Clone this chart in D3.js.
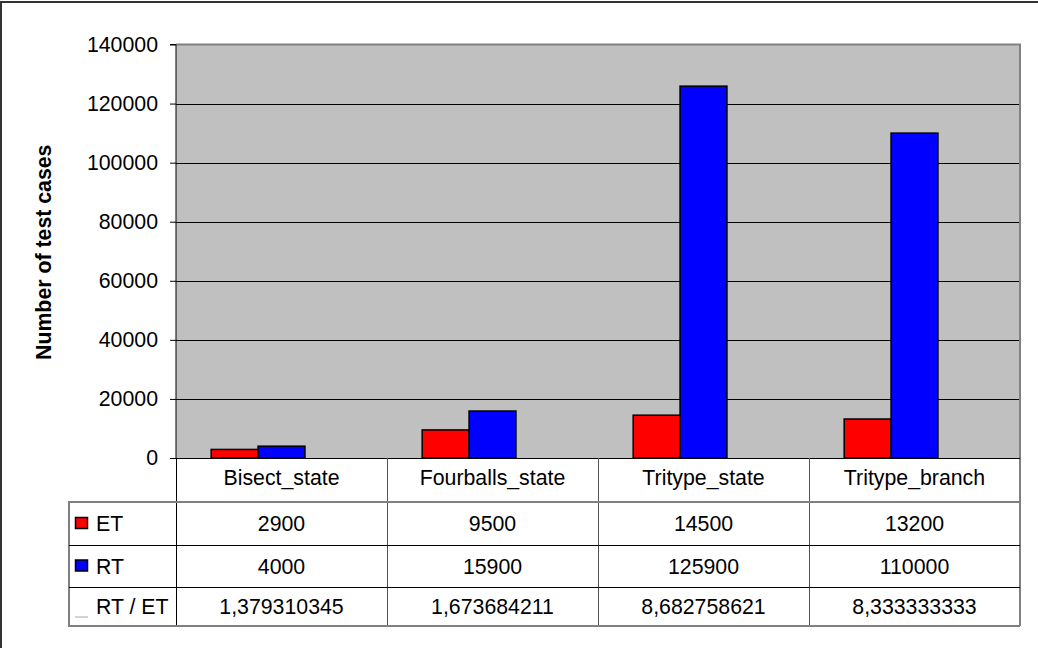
<!DOCTYPE html>
<html>
<head>
<meta charset="utf-8">
<script src="https://cdn.jsdelivr.net/npm/d3@7"></script>
<style>
  body { margin: 0; background: #fff; }
  text { font-family: "Liberation Sans", Arial, sans-serif; }
</style>
</head>
<body>
<div id="chart"></div>
<script>
// data
const categories = ["Bisect_state", "Fourballs_state", "Tritype_state", "Tritype_branch"];
const seriesNames = ["ET", "RT", "RT / ET"];
const etValues = [2900, 9500, 14500, 13200];
const rtValues = [4000, 15900, 125900, 110000];
const ratioLabels = ["1,379310345", "1,673684211", "8,682758621", "8,333333333"];
const yTicks = [0, 20000, 40000, 60000, 80000, 100000, 120000, 140000];

const W = 1038, H = 648;
const FS = 21.3;
const plot = { left: 176, right: 1020, top: 44.5, bottom: 458 };
const rows = { top: 502, lines: [545, 587], bottom: 626, tableLeft: 69 };

const svg = d3.select("#chart").append("svg")
    .attr("width", W)
    .attr("height", H);

// outer frame (only top & left are visible in the picture)
svg.append("rect")
    .attr("x", 1).attr("y", 2)
    .attr("width", W + 10).attr("height", H + 10)
    .attr("fill", "none")
    .attr("stroke", "#333")
    .attr("stroke-width", 2);

const x = d3.scaleBand()
    .domain(categories)
    .range([plot.left, plot.right]);

// third series (RT / ET) is too small to see but still takes its slot
const xInner = d3.scaleBand()
    .domain(seriesNames)
    .range([0, x.bandwidth()])
    .paddingInner(0)
    .paddingOuter(0.75);

const y = d3.scaleLinear()
    .domain([0, 140000])
    .range([plot.bottom, plot.top]);

// plot background
svg.append("rect")
    .attr("x", plot.left).attr("y", plot.top)
    .attr("width", plot.right - plot.left)
    .attr("height", plot.bottom - plot.top)
    .attr("fill", "#c0c0c0");

// gridlines
svg.append("g")
    .selectAll("line")
    .data(yTicks.filter(d => d > 0 && d < 140000))
    .join("line")
    .attr("x1", plot.left).attr("x2", plot.right)
    .attr("y1", d => Math.round(y(d)) + 0.5)
    .attr("y2", d => Math.round(y(d)) + 0.5)
    .attr("stroke", "#000")
    .attr("stroke-width", 1);

// plot border top + right (gray)
svg.append("path")
    .attr("d", `M${plot.left},${plot.top}H${plot.right}V${rows.bottom}`)
    .attr("fill", "none")
    .attr("stroke", "#808080")
    .attr("stroke-width", 2);

// bars
const barData = [];
categories.forEach((c, i) => {
    barData.push({ cat: c, series: "ET", value: etValues[i], color: "#ff0000" });
    barData.push({ cat: c, series: "RT", value: rtValues[i], color: "#0000ff" });
});

svg.append("g")
    .selectAll("rect")
    .data(barData)
    .join("rect")
    .attr("x", d => x(d.cat) + xInner(d.series))
    .attr("y", d => y(d.value))
    .attr("width", xInner.bandwidth())
    .attr("height", d => y(0) - y(d.value))
    .attr("fill", d => d.color)
    .attr("stroke", "#000")
    .attr("stroke-width", 1.5);

// y axis
const yAxis = svg.append("g")
    .attr("transform", `translate(${plot.left},0)`)
    .call(d3.axisLeft(y).tickValues(yTicks).tickSize(6).tickPadding(12).tickFormat(d3.format("d")));
yAxis.select(".domain").attr("stroke", "#000").attr("d", `M-6,${plot.top}H0V${plot.bottom}`);
yAxis.selectAll(".tick line").attr("stroke", "#000");
yAxis.selectAll(".tick text")
    .attr("font-family", "Liberation Sans, Arial, sans-serif")
    .attr("font-size", FS)
    .attr("fill", "#000");

// axis title
svg.append("text")
    .attr("transform", `translate(51,${(plot.top + plot.bottom) / 2 + 1}) rotate(-90)`)
    .attr("text-anchor", "middle")
    .attr("font-size", FS)
    .attr("font-weight", "bold")
    .text("Number of test cases");

// ---- data table ----
const tbl = svg.append("g");

tbl.append("line")
    .attr("x1", plot.left).attr("x2", plot.right)
    .attr("y1", plot.bottom + 0.5).attr("y2", plot.bottom + 0.5)
    .attr("stroke", "#000");

// vertical separators between categories
tbl.selectAll(".sep")
    .data(categories.slice(1))
    .join("line")
    .attr("x1", d => Math.round(x(d)) + 0.5)
    .attr("x2", d => Math.round(x(d)) + 0.5)
    .attr("y1", plot.bottom).attr("y2", rows.bottom)
    .attr("stroke", "#555");

// left line of the value area (continues the axis)
tbl.append("line")
    .attr("x1", plot.left + 0.5).attr("x2", plot.left + 0.5)
    .attr("y1", plot.bottom).attr("y2", rows.bottom)
    .attr("stroke", "#000");

// outer table frame (gray)
tbl.append("path")
    .attr("d", `M${plot.right},${rows.top}H${rows.tableLeft}V${rows.bottom}H${plot.right}`)
    .attr("fill", "none")
    .attr("stroke", "#808080")
    .attr("stroke-width", 2);

// inner row lines
tbl.selectAll(".rowline")
    .data(rows.lines)
    .join("line")
    .attr("x1", rows.tableLeft).attr("x2", plot.right)
    .attr("y1", d => d + 0.5).attr("y2", d => d + 0.5)
    .attr("stroke", "#000");

// header labels
tbl.selectAll(".cat")
    .data(categories)
    .join("text")
    .attr("x", d => x(d) + x.bandwidth() / 2)
    .attr("y", 485)
    .attr("text-anchor", "middle")
    .attr("font-size", FS)
    .text(d => d);

const rowY = [rows.top, rows.lines[0], rows.lines[1], rows.bottom];
const rowData = [
    { name: "ET", color: "#ff0000", cells: etValues.map(String) },
    { name: "RT", color: "#0000ff", cells: rtValues.map(String) },
    { name: "RT / ET", color: null, cells: ratioLabels }
];

rowData.forEach((r, i) => {
    const cy = (rowY[i] + rowY[i + 1]) / 2;
    if (r.color) {
        tbl.append("rect")
            .attr("x", 75.5).attr("y", cy - 6)
            .attr("width", 12).attr("height", 11)
            .attr("fill", r.color)
            .attr("stroke", "#000")
            .attr("stroke-width", 1.5);
    } else {
        tbl.append("line")
            .attr("x1", 75).attr("x2", 88)
            .attr("y1", cy + 10.5).attr("y2", cy + 10.5)
            .attr("stroke", "#aaa");
    }
    tbl.append("text")
        .attr("x", 96)
        .attr("y", cy + 7.5)
        .attr("font-size", FS)
        .text(r.name);
    tbl.selectAll(null)
        .data(r.cells)
        .join("text")
        .attr("x", (d, j) => x(categories[j]) + x.bandwidth() / 2)
        .attr("y", cy + 7.5)
        .attr("text-anchor", "middle")
        .attr("font-size", FS)
        .text(d => d);
});
</script>
</body>
</html>
